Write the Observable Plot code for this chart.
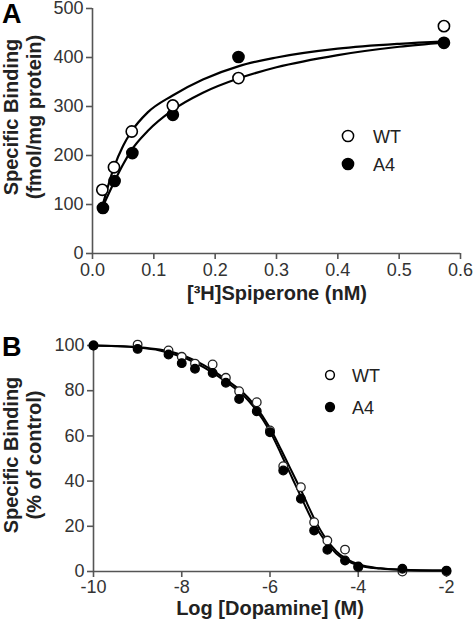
<!DOCTYPE html>
<html>
<head>
<meta charset="utf-8">
<script src="https://cdn.jsdelivr.net/npm/d3@7"></script>
<script src="https://cdn.jsdelivr.net/npm/@observablehq/plot@0.6"></script>
<style>
  html, body { margin: 0; padding: 0; background: #fff; }
  #chart { width: 473px; height: 628px; overflow: hidden; }
  #chart svg { display: block; }
</style>
</head>
<body>
<div id="chart"></div>
<script>
// ---------- Panel A: saturation binding ----------
const aWT_x = [0.016, 0.035, 0.064, 0.131, 0.238, 0.573];
const aWT_y = [130, 176, 249, 302, 358, 464];
const aA4_x = [0.017, 0.036, 0.065, 0.131, 0.238, 0.573];
const aA4_y = [93, 148, 205, 283, 401, 430];
// fitted curves
const aCurve_x  = [0.0175, 0.035, 0.05, 0.063, 0.09, 0.13, 0.18, 0.24, 0.3, 0.4, 0.5, 0.575];
const aCurveWT  = [103, 176, 220, 248, 288, 322, 355, 383, 400, 418, 428, 433];
const aCurveA4  = [98, 145, 182, 210, 250, 292, 328, 358, 380, 405, 422, 431];
const aXTicks = [0, 0.1, 0.2, 0.3, 0.4, 0.5, 0.6];
const aYTicks = [0, 100, 200, 300, 400, 500];

// ---------- Panel B: competition binding ----------
const bX = [-10, -9, -8.3, -8, -7.7, -7.3, -7, -6.7, -6.3, -6, -5.7, -5.3, -5, -4.7, -4.3, -4, -3, -2];
const bWT = [100, 100.4, 97.8, 95, 92, 91.6, 85.7, 79.8, 74.9, 62.4, 46.6, 37.3, 21.8, 13.7, 9.7, 1.9, 0, 0];
const bA4 = [100, 98.5, 96, 92.2, 89.7, 87.8, 83.5, 76.3, 70.9, 61.6, 44.7, 32.2, 18.1, 9.6, 4.9, 2.2, 1.2, 0.4];
const bCurve_x = [-10, -9.5, -9, -8.5, -8, -7.5, -7, -6.5, -6, -5.75, -5.5, -5.25, -5, -4.75, -4.5, -4, -3.5, -3, -2];
const bCurveWT = [100, 99.8, 99.3, 98.2, 95.8, 91.3, 85, 77, 63.5, 54, 44, 34, 23.5, 15, 9, 3.2, 1.4, 0.8, 0.4];
const bCurveA4 = [100, 99.7, 99.1, 97.8, 95.0, 90.3, 84, 75.8, 62, 52, 41.5, 31, 21, 13.5, 8, 2.8, 1.3, 0.7, 0.4];
const bXTicks = [-10, -8, -6, -4, -2];
const bYTicks = [0, 20, 40, 60, 80, 100];

const seriesNames = ["WT", "A4"];

const FONT = "'Liberation Sans', Arial, Helvetica, sans-serif";
const AXIS = "#555";
const TXT = "#333";

const zip = (xs, ys) => xs.map((x, i) => ({x, y: ys[i]}));

function axes(xTicks, yTicks, xDom, yDom, fmtX, fmtY, padX) {
  return [
    Plot.ruleY([yDom[0]], {stroke: AXIS, strokeWidth: 1.6}),
    Plot.ruleX([xDom[0]], {stroke: AXIS, strokeWidth: 1.6}),
    Plot.axisX(xTicks, {tickSize: 6, tickPadding: padX, stroke: AXIS, strokeWidth: 1.6, fill: TXT,
      fontSize: 18, tickFormat: fmtX, label: null}),
    Plot.axisY(yTicks, {tickSize: 6, tickPadding: 3, stroke: AXIS, strokeWidth: 1.6, fill: TXT,
      fontSize: 18, tickFormat: fmtY, label: null})
  ];
}

function addText(svg, x, y, txt, opts = {}) {
  const t = d3.select(svg).append("text")
    .attr("x", x).attr("y", y)
    .attr("font-family", FONT)
    .attr("font-size", opts.size || 18)
    .attr("font-weight", opts.weight || "normal")
    .attr("fill", opts.fill || "#111")
    .attr("text-anchor", opts.anchor || "start")
    .text(txt);
  if (opts.rotate) t.attr("transform", `rotate(${opts.rotate},${x},${y})`);
  return t;
}

function addLegend(svg, cx, y1, y2, r, tx) {
  const g = d3.select(svg).append("g");
  [[y1, "white", seriesNames[0]], [y2, "black", seriesNames[1]]].forEach(([y, f, name]) => {
    g.append("circle").attr("cx", cx).attr("cy", y).attr("r", r)
      .attr("fill", f).attr("stroke", "black").attr("stroke-width", 1.5);
    g.append("text").attr("x", tx).attr("y", y + 6.5)
      .attr("text-anchor", "start")
      .attr("font-family", FONT).attr("font-size", 18).attr("fill", "#222").text(name);
  });
}

// ----- Plot A -----
const plotA = Plot.plot({
  width: 473, height: 305,
  marginLeft: 92, marginRight: 13, marginTop: 8, marginBottom: 52,
  style: {fontFamily: FONT, background: "white", overflow: "visible"},
  x: {domain: [0, 0.6]},
  y: {domain: [0, 500]},
  marks: [
    ...axes(aXTicks, aYTicks, [0, 0.6], [0, 500], d3.format(".1f"), d => String(d), 4),
    Plot.line(zip(aCurve_x, aCurveWT), {x: "x", y: "y", stroke: "black", strokeWidth: 2.2, curve: "monotone-x"}),
    Plot.line(zip(aCurve_x, aCurveA4), {x: "x", y: "y", stroke: "black", strokeWidth: 2.2, curve: "monotone-x"}),
    Plot.dot(zip(aA4_x, aA4_y), {x: "x", y: "y", r: 5.6, fill: "black", stroke: "black", strokeWidth: 1.5}),
    Plot.dot(zip(aWT_x, aWT_y), {x: "x", y: "y", r: 5.6, fill: "white", stroke: "black", strokeWidth: 1.6})
  ]
});
addText(plotA, 2, 23, "A", {size: 27, weight: "bold", fill: "#000"});
addText(plotA, 18, 117, "Specific Binding", {size: 20, weight: "bold", anchor: "middle", rotate: -90, fill: "#222"});
addText(plotA, 41, 117, "(fmol/mg protein)", {size: 20, weight: "bold", anchor: "middle", rotate: -90, fill: "#222"});
addText(plotA, 277, 300, "[³H]Spiperone (nM)", {size: 20, weight: "bold", anchor: "middle", fill: "#222"});
addLegend(plotA, 348, 136, 164, 5.6, 373);

// ----- Plot B -----
const plotB = Plot.plot({
  width: 473, height: 323,
  marginLeft: 93, marginRight: 27, marginTop: 40, marginBottom: 57,
  style: {fontFamily: FONT, background: "white", overflow: "visible"},
  x: {domain: [-10, -2]},
  y: {domain: [0, 100]},
  marks: [
    ...axes(bXTicks, bYTicks, [-10, -2], [0, 100], d => String(d), d => String(d), 3),
    Plot.line(zip(bCurve_x, bCurveWT), {x: "x", y: "y", stroke: "black", strokeWidth: 2, curve: "monotone-x"}),
    Plot.line(zip(bCurve_x, bCurveA4), {x: "x", y: "y", stroke: "black", strokeWidth: 2, curve: "monotone-x"}),
    Plot.dot(zip(bX, bWT), {x: "x", y: "y", r: 4.3, fill: "white", stroke: "#222", strokeWidth: 1.3}),
    Plot.dot(zip(bX, bA4), {x: "x", y: "y", r: 4.3, fill: "black", stroke: "black", strokeWidth: 1.3})
  ]
});
addText(plotB, 2, 51, "B", {size: 27, weight: "bold", fill: "#000"});
addText(plotB, 18, 150, "Specific Binding", {size: 20, weight: "bold", anchor: "middle", rotate: -90, fill: "#222"});
addText(plotB, 41, 150, "(% of control)", {size: 20, weight: "bold", anchor: "middle", rotate: -90, fill: "#222"});
addText(plotB, 270, 310, "Log [Dopamine] (M)", {size: 20, weight: "bold", anchor: "middle", fill: "#222"});
addLegend(plotB, 330, 70, 102, 4.4, 352);

document.getElementById("chart").append(plotA, plotB);
</script>
</body>
</html>
